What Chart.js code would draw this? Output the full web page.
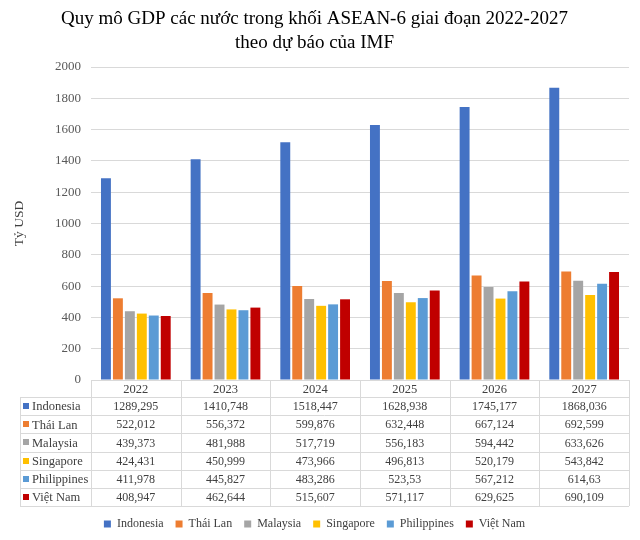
<!DOCTYPE html>
<html><head><meta charset="utf-8">
<script src="https://cdn.jsdelivr.net/npm/chart.js@4"></script>
<style>html,body{margin:0;padding:0;background:#fff}</style>
</head><body>
<canvas id="c" width="640" height="540"></canvas>
<script>
const titleLines = ['Quy mô GDP các nước trong khối ASEAN-6 giai đoạn 2022-2027', 'theo dự báo của IMF'];
const years = ['2022', '2023', '2024', '2025', '2026', '2027'];
const countries = ['Indonesia', 'Thái Lan', 'Malaysia', 'Singapore', 'Philippines', 'Việt Nam'];
const indonesia   = [1289.295, 1410.748, 1518.447, 1628.938, 1745.177, 1868.036];
const thaiLan     = [522.012, 556.372, 599.876, 632.448, 667.124, 692.599];
const malaysia    = [439.373, 481.988, 517.719, 556.183, 594.442, 633.626];
const singapore   = [424.431, 450.999, 473.966, 496.813, 520.179, 543.842];
const philippines = [411.978, 445.827, 483.286, 523.53, 567.212, 614.63];
const vietNam     = [408.947, 462.644, 515.607, 571.117, 629.625, 690.109];
const yTickValues = [0, 200, 400, 600, 800, 1000, 1200, 1400, 1600, 1800, 2000];
const yAxisTitle = 'Tỷ USD';

const seriesValues = [indonesia, thaiLan, malaysia, singapore, philippines, vietNam];
const colors = ['#4472C4', '#ED7D31', '#A5A5A5', '#FFC000', '#5B9BD5', '#C00000'];
const FONT = "'Liberation Serif', 'Times New Roman', serif";

function fmt(v) { return String(v).replace('.', ','); }

const tablePlugin = {
  id: 'dataTable',
  afterDraw(chart) {
    const ctx = chart.ctx;
    const area = chart.chartArea;
    const xs = chart.scales.x;
    const top = area.bottom;
    const left = area.left, right = area.right;
    const tableLeft = 20;
    const headerH = 17;
    const rowH = (xs.height - headerH) / countries.length;
    const bottom = top + headerH + rowH * countries.length;
    const colW = (right - left) / years.length;
    ctx.save();
    ctx.strokeStyle = '#d9d9d9';
    ctx.lineWidth = 1;
    ctx.beginPath();
    const px = v => Math.round(v) + 0.5;
    ctx.moveTo(left, px(top)); ctx.lineTo(right, px(top));
    for (let r = 0; r <= countries.length; r++) {
      const y = px(top + headerH + r * rowH);
      ctx.moveTo(tableLeft, y); ctx.lineTo(right, y);
    }
    ctx.moveTo(px(tableLeft), top + headerH); ctx.lineTo(px(tableLeft), bottom);
    for (let c = 0; c <= years.length; c++) {
      const x = px(left + c * colW);
      ctx.moveTo(x, top); ctx.lineTo(x, bottom);
    }
    ctx.stroke();

    ctx.fillStyle = '#404040';
    ctx.textBaseline = 'middle';
    ctx.textAlign = 'center';
    ctx.font = '12.5px ' + FONT;
    years.forEach((yr, i) => {
      ctx.fillText(yr, xs.getPixelForValue(i), top + headerH / 2 + 1);
    });
    countries.forEach((name, r) => {
      const cy = top + headerH + r * rowH + rowH / 2 + 1;
      ctx.fillStyle = colors[r];
      ctx.fillRect(tableLeft + 3, Math.round(cy - 4), 6, 6);
      ctx.fillStyle = '#404040';
      ctx.textAlign = 'left';
      ctx.font = '12.5px ' + FONT;
      ctx.fillText(name, tableLeft + 12, cy);
      ctx.textAlign = 'center';
      ctx.font = '12px ' + FONT;
      seriesValues[r].forEach((v, i) => {
        ctx.fillText(fmt(v), xs.getPixelForValue(i), cy);
      });
    });
    ctx.restore();
  }
};

new Chart(document.getElementById('c'), {
  type: 'bar',
  data: {
    labels: years,
    datasets: countries.map((name, i) => ({
      label: name,
      data: seriesValues[i],
      backgroundColor: colors[i],
      borderWidth: 0,
      categoryPercentage: 0.8,
      barPercentage: 0.83
    }))
  },
  options: {
    responsive: false,
    animation: false,
    devicePixelRatio: 1,
    layout: { padding: { left: 0, right: 11, top: 0, bottom: 0 } },
    plugins: {
      title: {
        display: true,
        text: titleLines,
        color: '#000',
        font: { family: FONT, size: 19, weight: 'normal', lineHeight: '24px' },
        padding: { top: 7, bottom: 12 }
      },
      legend: {
        position: 'bottom',
        labels: {
          boxWidth: 7, boxHeight: 7, padding: 12,
          color: '#404040',
          font: { family: FONT, size: 12 }
        }
      },
      tooltip: { enabled: false }
    },
    scales: {
      x: {
        grid: { display: false },
        border: { display: false },
        ticks: { display: false },
        afterFit(s) { s.height = 126; }
      },
      y: {
        min: 0, max: 2000,
        afterBuildTicks(s) { s.ticks = yTickValues.map(v => ({ value: v })); },
        ticks: {
          padding: 10,
          color: '#595959',
          font: { family: FONT, size: 13 },
          callback: v => String(v)
        },
        grid: { color: '#d9d9d9', drawTicks: false },
        border: { display: false },
        title: {
          display: true,
          text: yAxisTitle,
          color: '#404040',
          font: { family: FONT, size: 13.5 },
          padding: { top: 11, bottom: 0 }
        },
        afterFit(s) { s.width = 91; }
      }
    }
  },
  plugins: [tablePlugin]
});
</script>
</body></html>
